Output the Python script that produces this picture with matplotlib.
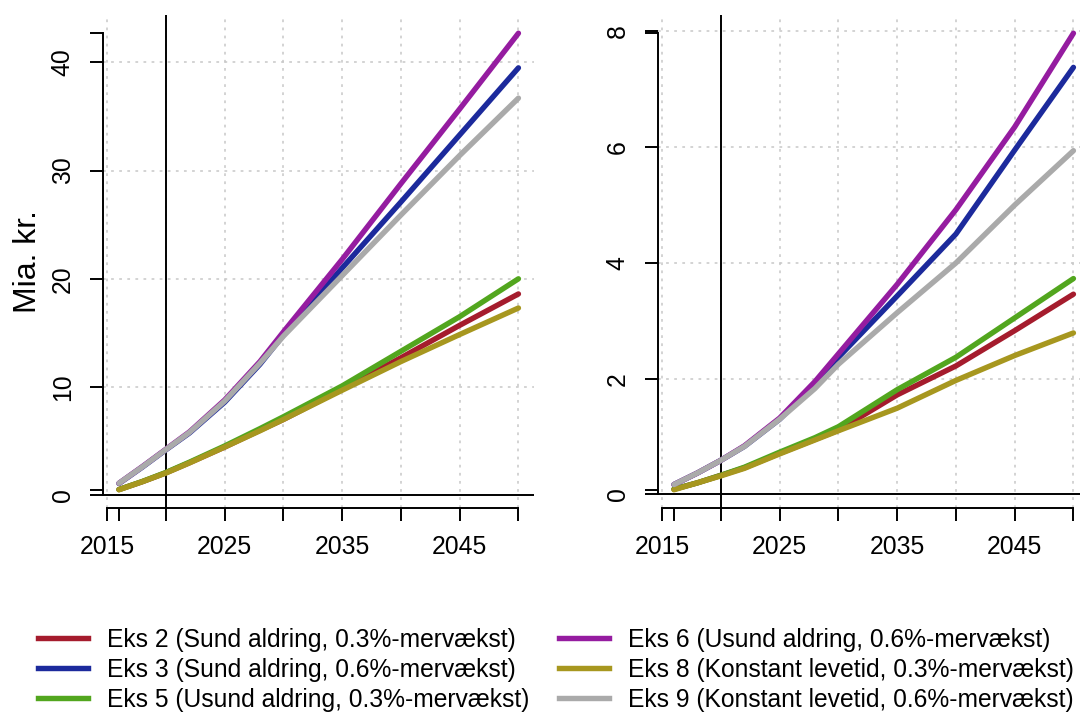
import matplotlib.pyplot as plt
from matplotlib.lines import Line2D

plt.rcParams['font.family'] = ['Liberation Sans', 'DejaVu Sans']

years = [2016, 2018, 2020, 2022, 2025, 2028, 2030, 2035, 2040, 2045, 2050]

names = ['Eks 2 (Sund aldring, 0.3%-mervækst)',
         'Eks 3 (Sund aldring, 0.6%-mervækst)',
         'Eks 5 (Usund aldring, 0.3%-mervækst)',
         'Eks 6 (Usund aldring, 0.6%-mervækst)',
         'Eks 8 (Konstant levetid, 0.3%-mervækst)',
         'Eks 9 (Konstant levetid, 0.6%-mervækst)']
colors = ['#a51c2d', '#1c2a9c', '#52a61e', '#951ca0', '#a7971f', '#aaaaaa']

# left panel (Mia. kr.)
left_eks2 = [0.52, 1.25, 2.07, 3.0, 4.45, 6.0, 7.0, 9.8, 12.7, 15.7, 18.6]
left_eks3 = [1.08, 2.6, 4.2, 5.75, 8.6, 12.1, 14.8, 21.0, 27.1, 33.3, 39.5]
left_eks5 = [0.52, 1.27, 2.1, 3.05, 4.55, 6.15, 7.25, 10.1, 13.3, 16.5, 20.0]
left_eks6 = [1.1, 2.65, 4.25, 5.85, 8.8, 12.35, 15.1, 21.8, 28.8, 35.7, 42.7]
left_eks8 = [0.5, 1.25, 2.05, 2.98, 4.45, 5.95, 7.0, 9.7, 12.35, 14.85, 17.3]
left_eks9 = [1.1, 2.62, 4.22, 5.8, 8.7, 12.2, 14.7, 20.3, 25.9, 31.4, 36.7]

# right panel
right_eks2 = [0.09, 0.2, 0.33, 0.46, 0.71, 0.95, 1.11, 1.72, 2.22, 2.83, 3.46]
right_eks3 = [0.17, 0.37, 0.59, 0.83, 1.3, 1.9, 2.37, 3.43, 4.5, 5.95, 7.38]
right_eks5 = [0.09, 0.2, 0.33, 0.47, 0.73, 0.98, 1.17, 1.81, 2.37, 3.05, 3.73]
right_eks6 = [0.17, 0.37, 0.59, 0.84, 1.32, 1.95, 2.43, 3.63, 4.92, 6.35, 7.97]
right_eks8 = [0.08, 0.2, 0.32, 0.45, 0.7, 0.94, 1.1, 1.49, 1.97, 2.4, 2.79]
right_eks9 = [0.17, 0.37, 0.59, 0.83, 1.3, 1.83, 2.25, 3.14, 4.0, 5.0, 5.94]

left_series = [left_eks2, left_eks3, left_eks5, left_eks6, left_eks8, left_eks9]
right_series = [right_eks2, right_eks3, right_eks5, right_eks6, right_eks8, right_eks9]

xticks = [2015, 2016, 2020, 2025, 2030, 2035, 2040, 2045, 2050]
xlabels = ['2015', '', '', '2025', '', '2035', '', '2045', '']
left_yticks = [0, 10, 20, 30, 40]
right_yticks = [0, 2, 4, 6, 8]

fig = plt.figure(figsize=(10.8, 7.13), dpi=100)
ax1 = fig.add_axes([103 / 1080, 0.2875, 431.4 / 1080, 0.6915])
ax2 = fig.add_axes([658 / 1080, 0.2875, 431.4 / 1080, 0.6915])

lw_axis = 1.4


def draw_panel(ax, series, yticks):
    lo = min(min(s) for s in series)
    hi = max(max(s) for s in series)
    pad_y = (hi - lo) * 0.04
    pad_x = (years[-1] - years[0]) * 0.04
    ax.set_xlim(years[0] - pad_x, years[-1] + pad_x)
    ax.set_ylim(lo - pad_y, hi + pad_y)

    # dotted grid
    for x in range(2015, 2051, 5):
        ax.axvline(x, color='#c8c8c8', lw=1.1, ls=(0, (1.8, 3.5)), zorder=1)
    for y in yticks[1:]:
        ax.axhline(y, color='#c8c8c8', lw=1.1, ls=(0, (1.8, 3.5)), zorder=1)

    ax.axvline(2020, color='black', lw=lw_axis, zorder=2)
    ax.axhline(0, color='black', lw=lw_axis, zorder=2)

    for s, c in zip(series, colors):
        ax.plot(years, s, color=c, lw=3.9, solid_capstyle='round',
                solid_joinstyle='round', zorder=3)

    for side in ['top', 'right']:
        ax.spines[side].set_visible(False)
    ax.spines['left'].set_bounds(0, hi)
    ax.spines['left'].set_linewidth(lw_axis)
    ax.spines['bottom'].set_bounds(2015, 2050)
    ax.spines['bottom'].set_linewidth(lw_axis)

    ax.set_xticks(xticks)
    ax.set_xticklabels(xlabels)
    ax.set_yticks([lo] + yticks + [hi])
    ax.set_yticklabels([''] + [str(t) for t in yticks] + [''],
                       rotation=90, va='center', ha='right')
    ax.tick_params(axis='both', direction='out', length=9.4, width=lw_axis,
                   labelsize=17.8)
    ax.tick_params(axis='x', pad=10)
    ax.tick_params(axis='y', pad=11)


draw_panel(ax1, left_series, left_yticks)
draw_panel(ax2, right_series, right_yticks)

ax1.set_ylabel('Mia. kr.', fontsize=23)
ax1.yaxis.set_label_coords(-60 / 431.4, 0.5)

handles = [Line2D([], [], color=c, lw=3.9) for c in colors]
fig.legend(handles, names, ncol=2, loc='upper left',
           bbox_to_anchor=(38 / 1080, 1 - 627.5 / 713), frameon=False,
           fontsize=17.7, handlelength=2.03, handletextpad=0.77,
           columnspacing=1.2, labelspacing=0.245, borderpad=0,
           borderaxespad=0)

fig.savefig('out.png', dpi=100)
